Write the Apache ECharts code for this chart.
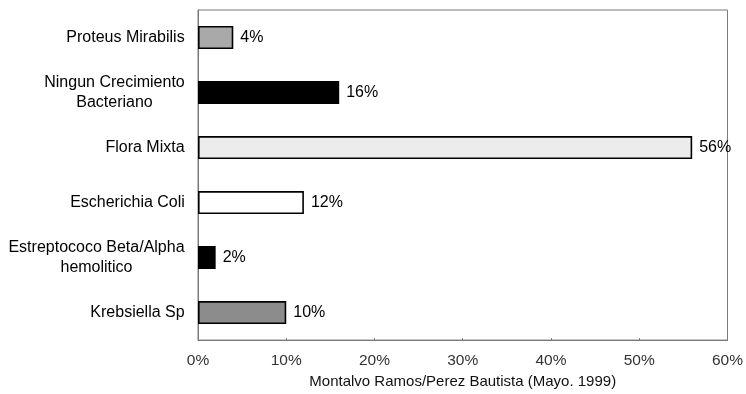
<!DOCTYPE html>
<html>
<head>
<meta charset="utf-8">
<script src="https://cdn.jsdelivr.net/npm/echarts@6/dist/echarts.min.js"></script>
<style>
  html, body { margin: 0; padding: 0; background: #fff; }
  #chart { width: 746px; height: 394px; }
</style>
</head>
<body>
<div id="chart"></div>
<script>
// Cultivos: porcentaje por resultado
const categories = [
  'Proteus Mirabilis',
  'Ningun Crecimiento\nBacteriano',
  'Flora Mixta',
  'Escherichia Coli',
  'Estreptococo Beta/Alpha\nhemolitico',
  'Krebsiella Sp'
];
const percentages = [4, 16, 56, 12, 2, 10];
const xTicks = [0, 10, 20, 30, 40, 50, 60];
const axisTitle = 'Montalvo Ramos/Perez Bautista (Mayo. 1999)';

const FONT = '"Liberation Sans", Arial, Helvetica, sans-serif';
const CAT_SIZE = 16;
const barFills = ['#a9a9a9', '#000000', '#ececec', '#ffffff', '#000000', '#8c8c8c'];

// Fixed-width rich blocks so two-line labels are centred on each other
const measureCtx = document.createElement('canvas').getContext('2d');
measureCtx.font = CAT_SIZE + 'px ' + FONT;
const rich = {};
categories.forEach((c, i) => {
  const w = Math.max(...c.split('\n').map(s => measureCtx.measureText(s).width));
  rich['c' + i] = { width: Math.ceil(w), align: 'center', fontSize: CAT_SIZE, lineHeight: 20, color: '#000', fontFamily: FONT };
});

const chart = echarts.init(document.getElementById('chart'), null, { renderer: 'canvas' });
chart.setOption({
  animation: false,
  backgroundColor: '#fff',
  grid: {
    left: 198, right: 18, top: 10, bottom: 52,
    show: true, borderColor: '#7a7a7a', borderWidth: 1, backgroundColor: 'transparent'
  },
  xAxis: {
    type: 'value',
    min: xTicks[0], max: xTicks[xTicks.length - 1], interval: 10,
    axisLine: { show: true, lineStyle: { color: '#7a7a7a' } },
    axisTick: { show: true, inside: true, length: 2, lineStyle: { color: '#7a7a7a' } },
    splitLine: { show: false },
    axisLabel: { formatter: v => v + '%', color: '#333', fontSize: 15.5, fontFamily: FONT, margin: 13 },
    name: axisTitle,
    nameLocation: 'middle',
    nameGap: 33,
    nameTextStyle: { color: '#111', fontSize: 15, fontFamily: FONT }
  },
  yAxis: {
    type: 'category',
    inverse: true,
    data: categories,
    axisLine: { show: true, lineStyle: { color: '#7a7a7a' } },
    axisTick: { show: false },
    axisLabel: {
      margin: 13,
      formatter: (v, i) => v.split('\n').map(s => '{c' + i + '|' + s + '}').join('\n'),
      rich: rich
    }
  },
  series: [{
    type: 'bar',
    data: percentages.map((v, i) => ({
      value: v,
      itemStyle: { color: barFills[i], borderColor: '#000', borderWidth: 1.6 }
    })),
    barWidth: 23,
    label: {
      show: true, position: 'right', distance: 7,
      formatter: p => p.value + '%',
      color: '#000', fontSize: 16, fontFamily: FONT
    }
  }]
});
</script>
</body>
</html>
